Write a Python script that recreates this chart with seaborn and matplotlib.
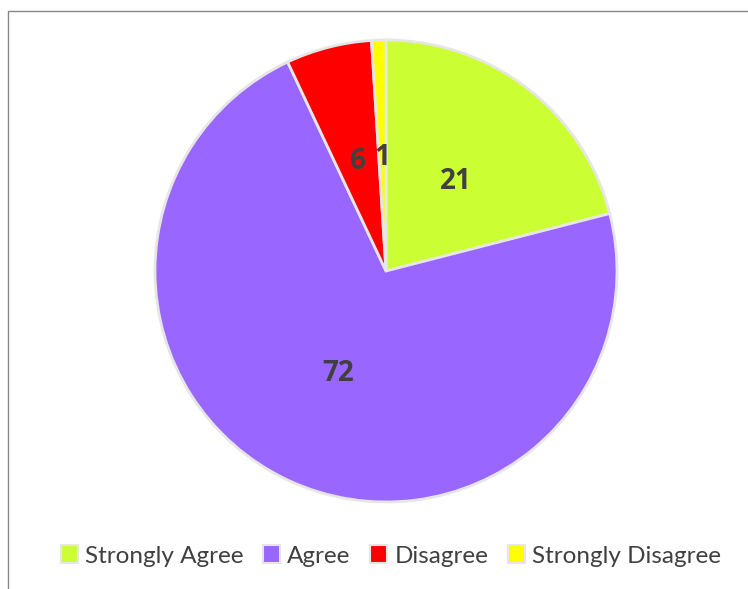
import matplotlib
matplotlib.use("Agg")
import matplotlib.pyplot as plt
import seaborn as sns
from matplotlib.lines import Line2D

# Data
categories = ["Strongly Agree", "Agree", "Disagree", "Strongly Disagree"]
values = [21, 72, 6, 1]
colors = ["#CCFF33", "#9966FF", "#FF0000", "#FFFF00"]

sns.set_theme(style="white")
plt.rcParams['font.family'] = ['Lato', 'DejaVu Sans']

fig = plt.figure(figsize=(7.48, 5.89), dpi=100)
# pie area: center (386, 271), radius ~231 px
R = 231
ax = fig.add_axes([(386 - R) / 748, 1 - (271 + R) / 589, 2 * R / 748, 2 * R / 589])

wedges, texts = ax.pie(
    values,
    colors=colors,
    startangle=90,
    counterclock=False,
    labels=[str(v) for v in values],
    labeldistance=0.49,
    wedgeprops=dict(edgecolor="#E6E6E6", linewidth=2),
    textprops=dict(fontsize=20, fontweight="bold", color="#404040",
                   family=["Open Sans", "DejaVu Sans"]),
)
for t in texts:
    t.set_ha("center")
    t.set_va("center")
ax.set_aspect("equal")
ax.set_xlim(-1, 1)
ax.set_ylim(-1, 1)
ax.axis("off")

# Legend at the bottom
handles = [plt.Rectangle((0, 0), 1, 1, facecolor=c, edgecolor="#E6E6E6", linewidth=1.5)
           for c in colors]
fig.legend(handles, categories, loc="center", bbox_to_anchor=(391 / 748, 1 - 556 / 589),
           ncol=4, frameon=False, fontsize=17.5, handlelength=0.7, handleheight=0.7,
           handletextpad=0.3, columnspacing=0.8, labelcolor="#404040")

# Chart frame (only top and left edges visible)
fig.add_artist(Line2D([8 / 748, 8 / 748], [0, 1 - 11 / 589], transform=fig.transFigure,
                      color="#888888", linewidth=1))
fig.add_artist(Line2D([8 / 748, 1], [1 - 11 / 589, 1 - 11 / 589], transform=fig.transFigure,
                      color="#888888", linewidth=1))

fig.savefig("out.png", dpi=100, facecolor="white")
